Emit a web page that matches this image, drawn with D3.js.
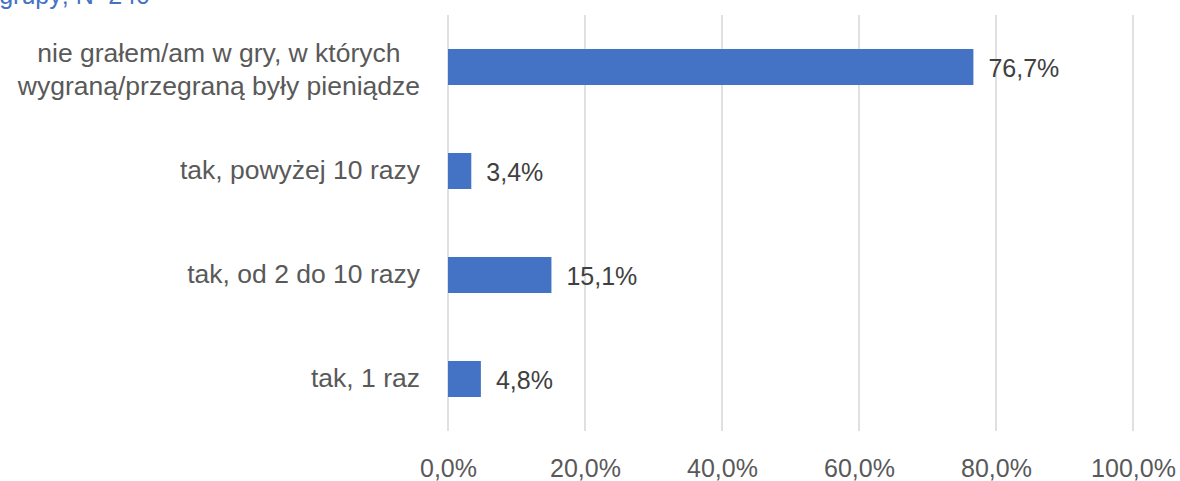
<!DOCTYPE html>
<html>
<head>
<meta charset="utf-8">
<script src="https://cdn.jsdelivr.net/npm/d3@7"></script>
<style>
  html, body { margin: 0; padding: 0; background: #fff; }
  svg { display: block; font-family: "Liberation Sans", Arial, sans-serif; }
</style>
</head>
<body>
<svg width="1180" height="481"></svg>
<script>
// dane z wykresu
var categories = [
  "nie grałem/am w gry, w których\nwygraną/przegraną były pieniądze",
  "tak, powyżej 10 razy",
  "tak, od 2 do 10 razy",
  "tak, 1 raz"
];
var values = [76.7, 3.4, 15.1, 4.8];
var tickValues = [0, 20, 40, 60, 80, 100];
var note = "grupy; N=240";

var svg = d3.select("svg");
var textColor = "#595959";
var barColor = "#4472C4";

var pl = d3.formatLocale({decimal: ",", thousands: " ", grouping: [3], currency: ["", " zł"]});
var fmt = pl.format(".1f");

var x = d3.scaleLinear().domain([0, 100]).range([448, 1133]);
var y = d3.scaleBand()
    .domain(categories)
    .range([15, 431])
    .paddingInner(0.654)
    .paddingOuter(0.327);

// notatka u góry (ucięta)
svg.append("text")
    .attr("x", 150)
    .attr("y", 4)
    .attr("text-anchor", "end")
    .attr("fill", barColor)
    .style("font-size", "25px")
    .text(note);

// linie siatki
svg.append("g")
  .selectAll("line")
  .data(tickValues)
  .enter().append("line")
    .attr("x1", function(d) { return x(d); })
    .attr("x2", function(d) { return x(d); })
    .attr("y1", 15)
    .attr("y2", 431)
    .attr("stroke", "#d9d9d9")
    .attr("stroke-width", 1.6);

// oś X
var axis = svg.append("g")
    .attr("transform", "translate(0,0)")
    .call(d3.axisBottom(x).tickValues(tickValues).tickSize(0).tickFormat(function(d) { return fmt(d) + "%"; }));
axis.select(".domain").remove();
axis.selectAll("text")
    .attr("y", 477)
    .attr("dy", 0)
    .attr("fill", textColor)
    .style("font-size", "25px")
    .style("font-family", "Liberation Sans, Arial, sans-serif");

// słupki
svg.append("g")
  .selectAll("rect")
  .data(values)
  .enter().append("rect")
    .attr("x", x(0))
    .attr("y", function(d, i) { return y(categories[i]); })
    .attr("width", function(d) { return x(d) - x(0); })
    .attr("height", y.bandwidth())
    .attr("fill", barColor);

// etykiety wartości
svg.append("g")
  .selectAll("text")
  .data(values)
  .enter().append("text")
    .attr("x", function(d) { return x(d) + 15; })
    .attr("y", function(d, i) { return y(categories[i]) + y.bandwidth() / 2 + 10; })
    .attr("fill", "#404040")
    .style("font-size", "25px")
    .text(function(d) { return fmt(d) + "%"; });

// etykiety kategorii
var labelRight = 420;
var lineH = 33;
categories.forEach(function(c) {
  var lines = c.split("\n");
  var cy = y(c) + y.bandwidth() / 2;
  var g = svg.append("g");
  var texts = lines.map(function(line, i) {
    return g.append("text")
      .attr("text-anchor", "middle")
      .attr("y", cy + 8 + (i - (lines.length - 1) / 2) * lineH + (lines.length > 1 ? 3 : 0))
      .attr("fill", textColor)
      .style("font-size", "26.5px")
      .text(line);
  });
  var maxW = d3.max(texts, function(t) { return t.node().getComputedTextLength(); });
  texts.forEach(function(t) { t.attr("x", labelRight - maxW / 2); });
});
</script>
</body>
</html>
